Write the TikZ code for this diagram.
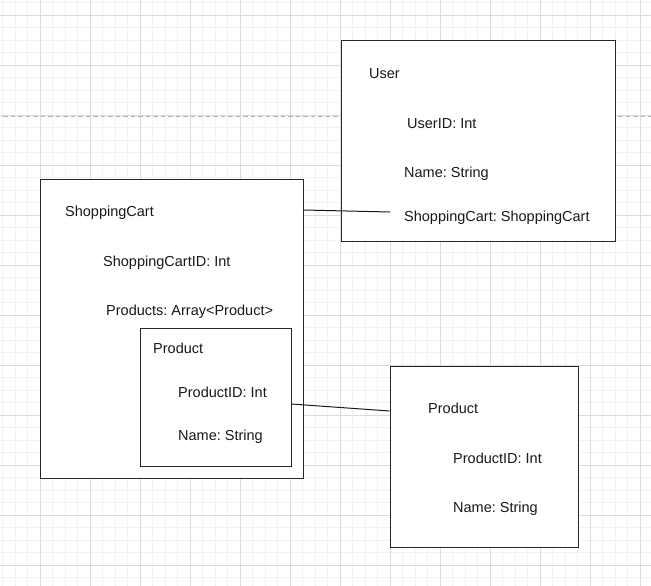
\documentclass[tikz,border=0pt]{standalone}
\usepackage{fontspec}
\setmainfont{Liberation Sans}
\usepackage{tikz}
\usetikzlibrary{positioning}
\frenchspacing

\begin{document}
\begin{tikzpicture}[
  x=1pt, y=-1pt,
  font=\fontsize{14.5}{16}\selectfont,
  minorline/.style={draw=black!5, line width=0.8pt},
  majorline/.style={draw=black!14, line width=0.8pt},
  entity/.style={draw=black!85, line width=1pt, fill=white, inner sep=0pt},
  field/.style={anchor=west, inner sep=0pt, text=black!90},
  link/.style={draw=black!90, line width=1pt}
]
\useasboundingbox[fill=white] (0,0) rectangle (651,586);
% background grid
\foreach \g in {2.5,15,...,652} {
  \draw[minorline] (\g,0) -- (\g,586);
}
\foreach \g in {2.5,15,...,587} {
  \draw[minorline] (0,\g) -- (651,\g);
}
\foreach \g in {40,90,...,640} {
  \draw[majorline] (\g,0) -- (\g,586);
}
\foreach \g in {15,65,...,565} {
  \draw[majorline] (0,\g) -- (651,\g);
}
\draw[draw=black!30, line width=1pt, dash pattern=on 4.5pt off 3pt] (3,116) -- (651,116);

% entity boxes
\node[entity, minimum width=274pt, minimum height=200pt] (user) at (478,141) {};
\node[entity, minimum width=263pt, minimum height=299pt] (cart) at (171.5,328.5) {};
\node[entity, minimum width=151pt, minimum height=138pt] (inprod) at (215.5,397) {};
\node[entity, minimum width=188pt, minimum height=181pt] (prod) at (484,456.5) {};

% User
\node[field] (usertitle) at (369,73.5) {User};
\node[field] (userid) at (407,123.5) {UserID: Int};
\node[field] (username) at (404,173.5) {Name: String};
\node[field] (usercart) at (404,217.5) {ShoppingCart: ShoppingCart};

% ShoppingCart
\node[field] (carttitle) at (65,212.5) {ShoppingCart};
\node[field] (cartid) at (103,262.5) {ShoppingCartID: Int};
\node[field] (cartprods) at (106,311.5) {Products: Array<Product>};
\node[field] (inprodtitle) at (153,348.5) {Product};
\node[field] (inprodid) at (178,392.5) {ProductID: Int};
\node[field] (inprodname) at (178,436.5) {Name: String};

% Product
\node[field] (prodtitle) at (428,408.5) {Product};
\node[field] (prodid) at (453,458.5) {ProductID: Int};
\node[field] (prodname) at (453,508.5) {Name: String};

% connectors
\draw[link] ([yshift=2.5pt]cart.east |- carttitle.west) -- ([xshift=-14pt, yshift=5.5pt]usercart.west);
\draw[link] ([yshift=-7pt]inprod.east) -- ([yshift=45.5pt]prod.west);
\end{tikzpicture}
\end{document}
